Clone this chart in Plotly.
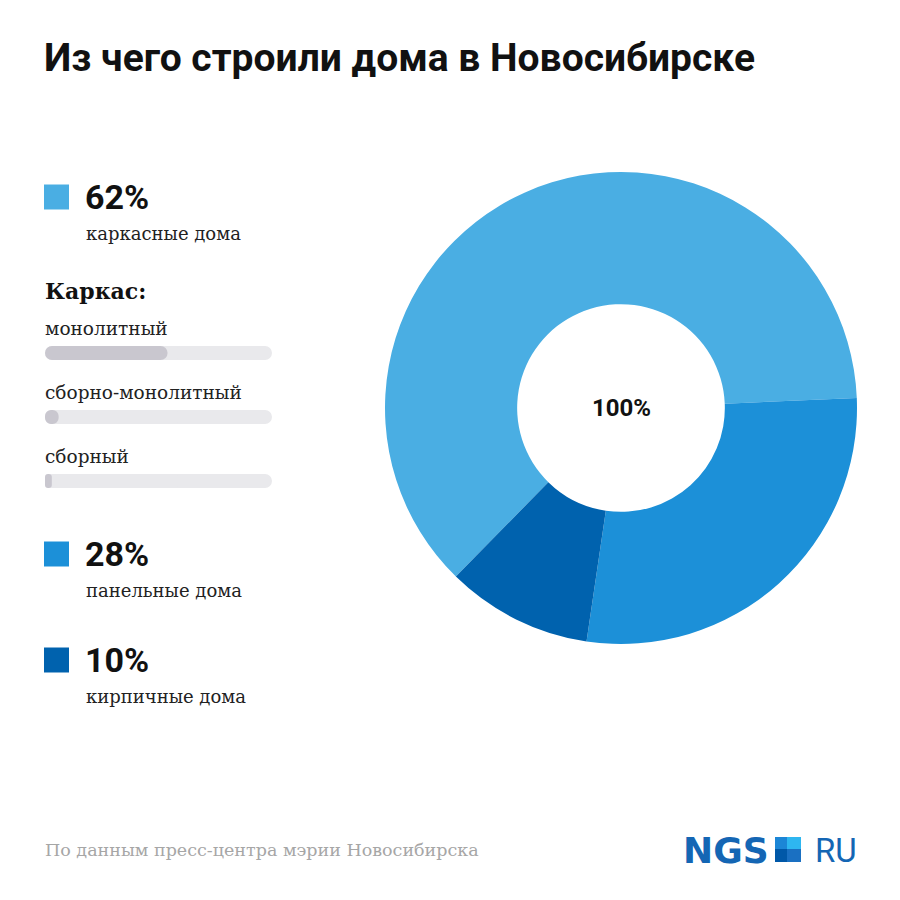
import plotly.graph_objects as go

# ---- data ----
title_text = "Из чего строили дома в Новосибирске"
house_types = ["каркасные дома", "панельные дома", "кирпичные дома"]
house_shares = [62, 28, 10]
house_colors = ["#4AAEE3", "#1C90D8", "#0062AE"]
center_label = "100%"

frame_types = ["монолитный", "сборно-монолитный", "сборный"]
frame_values = [54, 6, 3]
frame_max = 100

source_text = "По данным пресс-центра мэрии Новосибирска"

SANS = "Roboto, Inter, sans-serif"
SLAB = "DejaVu Serif, serif"

OFF = 8  # page margin compensation
def X(px):
    return (px - OFF) / 900
def Y(px):
    return 1 - (px - OFF) / 900

fig = go.Figure()

# donut
fig.add_trace(go.Pie(
    labels=house_types, values=house_shares, hole=0.44, sort=False,
    direction="clockwise", rotation=224.4,
    marker=dict(colors=house_colors, line=dict(width=0)),
    textinfo="none", hoverinfo="label+percent", showlegend=False,
    domain=dict(x=[X(385), X(857)], y=[Y(644), Y(172)]),
))

# frame bars (each piece drawn toward its rounded end; pieces overlap in the middle)
ypos = [2, 1, 0]
TRACK = "#E9E9EC"
FILL = "#C9C7CF"
bw = 0.22
lo, hi = 0.4 * frame_max, 0.6 * frame_max
fig.add_trace(go.Bar(
    x=[frame_max - lo]*3, base=[lo]*3, y=ypos, orientation="h", width=bw,
    marker=dict(color=TRACK, cornerradius="50%", line=dict(width=0)),
    hoverinfo="skip", showlegend=False,
))
fig.add_trace(go.Bar(
    x=[-hi]*3, base=[hi]*3, y=ypos, orientation="h", width=bw,
    marker=dict(color=TRACK, cornerradius="50%", line=dict(width=0)),
    hoverinfo="skip", showlegend=False,
))
fig.add_trace(go.Bar(
    x=[-v for v in frame_values], base=frame_values, y=ypos, orientation="h", width=bw,
    marker=dict(color=FILL, cornerradius="50%", line=dict(width=0)),
    customdata=frame_values, hovertemplate="%{customdata}<extra></extra>",
    showlegend=False,
))

annotations = []
for name, yv in zip(frame_types, ypos):
    annotations.append(dict(
        x=0, y=yv + 0.39, xref="x", yref="y", text=name, showarrow=False,
        xanchor="left", yanchor="middle", xshift=-2,
        font=dict(family=SLAB, size=18.5, color="#222222"),
    ))

# title
annotations.append(dict(
    x=X(42), y=Y(58), xref="paper", yref="paper", text=title_text,
    showarrow=False, xanchor="left", yanchor="middle",
    font=dict(family=SANS, size=39, color="#111111", weight=700),
))

# legend entries
legend_y = [197, 554, 660]
shapes = []
for name, val, col, yc in zip(house_types, house_shares, house_colors, legend_y):
    shapes.append(dict(type="rect", xref="paper", yref="paper",
                       x0=X(44), x1=X(69), y0=Y(yc + 12.5), y1=Y(yc - 12.5),
                       fillcolor=col, line=dict(width=0)))
    annotations.append(dict(
        x=X(83), y=Y(yc), xref="paper", yref="paper", text=f"{val}%",
        showarrow=False, xanchor="left", yanchor="middle",
        font=dict(family=SANS, size=34, color="#111111", weight=700),
    ))
    annotations.append(dict(
        x=X(84), y=Y(yc + 36), xref="paper", yref="paper", text=name,
        showarrow=False, xanchor="left", yanchor="middle",
        font=dict(family=SLAB, size=18, color="#222222"),
    ))

annotations.append(dict(
    x=X(43), y=Y(291), xref="paper", yref="paper", text="<b>Каркас:</b>",
    showarrow=False, xanchor="left", yanchor="middle",
    font=dict(family=SLAB, size=22, color="#111111"),
))

# center label
annotations.append(dict(
    x=X(621), y=Y(408), xref="paper", yref="paper", text=center_label,
    showarrow=False, xanchor="center", yanchor="middle",
    font=dict(family=SANS, size=24, color="#111111", weight=700),
))

# source
annotations.append(dict(
    x=X(43), y=Y(850), xref="paper", yref="paper", text=source_text,
    showarrow=False, xanchor="left", yanchor="middle",
    font=dict(family=SLAB, size=17.5, color="#A6A6A6"),
))

# logo
annotations.append(dict(
    x=X(771), y=Y(850), xref="paper", yref="paper", text="<b>NGS</b>",
    showarrow=False, xanchor="right", yanchor="middle",
    font=dict(family="DejaVu Sans, sans-serif", size=36, color="#1466B4"),
))
annotations.append(dict(
    x=X(859), y=Y(850), xref="paper", yref="paper", text="RU",
    showarrow=False, xanchor="right", yanchor="middle",
    font=dict(family="Roboto, sans-serif", size=33, color="#1466B4"),
))
logo_sq = [
    (775, 787, 837, 849, "#1C86D6"),
    (787, 801, 837, 849, "#2EB6F0"),
    (775, 787, 849, 862, "#0058A8"),
    (787, 801, 849, 862, "#1A70C2"),
]
for x0, x1, y0, y1, c in logo_sq:
    shapes.append(dict(type="rect", xref="paper", yref="paper",
                       x0=X(x0), x1=X(x1), y0=Y(y1), y1=Y(y0),
                       fillcolor=c, line=dict(width=0)))

fig.update_layout(
    width=900, height=900, margin=dict(l=0, r=0, t=0, b=0),
    paper_bgcolor="white", plot_bgcolor="white",
    barmode="overlay",
    xaxis=dict(domain=[X(45), X(272)], range=[0, frame_max], visible=False, fixedrange=True),
    yaxis=dict(domain=[Y(513), Y(321)], range=[-0.5, 2.5], visible=False, fixedrange=True),
    annotations=annotations, shapes=shapes, showlegend=False,
)

fig.write_html("out.html")
